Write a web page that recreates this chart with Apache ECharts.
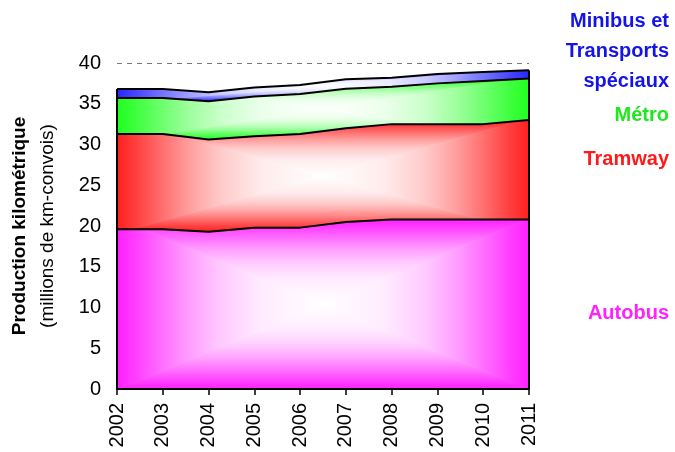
<!DOCTYPE html>
<html><head><meta charset="utf-8">
<script src="https://cdn.jsdelivr.net/npm/echarts@6/dist/echarts.min.js"></script>
<style>html,body{margin:0;padding:0;background:#fff}#c{width:675px;height:452px}</style>
</head><body><div id="c"></div>
<script>
const years = ['2002','2003','2004','2005','2006','2007','2008','2009','2010','2011'];
const autobus = [19.6,19.6,19.3,19.8,19.8,20.5,20.8,20.8,20.8,20.8];
const tramway = [11.7,11.7,11.3,11.2,11.5,11.5,11.7,11.7,11.7,12.2];
const metro   = [4.4,4.4,4.7,4.9,4.9,4.85,4.6,5.0,5.3,5.1];
const minibus = [1.1,1.1,1.1,1.1,1.1,1.15,1.1,1.15,1.1,1.0];
const yMin = 0, yMax = 40, yStep = 5;
const seriesNames = ['Autobus','Tramway','Métro','Minibus et Transports spéciaux'];
const legendLines = [['Autobus'],['Tramway'],['Métro'],['Minibus et','Transports','spéciaux']];

const seriesColors = ['#ff20ff','#ff2020','#20ff20','#2828ff'];
const textColors = ['#ff22ff','#ff1a1a','#1ee81e','#1414e6'];
const FONT = '"Liberation Sans", Arial, sans-serif';
const layers = [autobus, tramway, metro, minibus];
const totals = years.map((_, k) => layers.reduce((a, l) => a + l[k], 0));

const chart = echarts.init(document.getElementById('c'), null, {renderer: 'canvas'});

function buildSeries(fills) {
  const s = layers.map((d, i) => ({
    name: seriesNames[i], type: 'line', stack: 'total', data: d,
    showSymbol: false, symbol: 'none',
    lineStyle: {color: '#000', width: 2},
    itemStyle: {color: seriesColors[i]},
    areaStyle: {color: fills ? fills[i] : seriesColors[i], opacity: 1},
    z: 2
  }));
  const last = years.length - 1;
  s.push({type: 'line', data: [[years[0], 0], [years[0], totals[0]]], symbol: 'none', showSymbol: false,
          lineStyle: {color: '#000', width: 2}, z: 3});
  s.push({type: 'line', data: [[years[last], 0], [years[last], totals[last]]], symbol: 'none', showSymbol: false,
          lineStyle: {color: '#000', width: 2}, z: 3});
  return s;
}

// legend text layout (right-aligned at x=669)
const legendTops = [[303], [149], [105], [11, 41, 71]];
const graphics = [];
legendLines.forEach((lines, i) => {
  lines.forEach((t, j) => {
    graphics.push({type: 'text', x: 669, y: legendTops[i][j],
      style: {text: t, fill: textColors[i], font: 'bold 20px ' + FONT, align: 'right', verticalAlign: 'top'}});
  });
});

const option = {
  animation: false,
  backgroundColor: '#fff',
  grid: {left: 117, right: 146, top: 63, bottom: 63},
  xAxis: {
    type: 'category', data: years, boundaryGap: false, z: 5,
    axisLine: {lineStyle: {color: '#000', width: 2}},
    axisTick: {show: true, length: 6, lineStyle: {color: '#000', width: 1.5}},
    axisLabel: {rotate: 90, color: '#000', fontSize: 20, fontFamily: FONT, margin: 14},
    splitLine: {show: false}
  },
  yAxis: {
    type: 'value', min: yMin, max: yMax, interval: yStep,
    axisLine: {show: false}, axisTick: {show: false},
    axisLabel: {color: '#000', fontSize: 20, fontFamily: FONT, margin: 16},
    splitLine: {show: true, lineStyle: {color: '#777', type: [5, 5], width: 1}},
    name: '{b|Production kilométrique}\n{n|(millions de km-convois)}',
    nameLocation: 'middle', nameRotate: 90, nameGap: 55,
    nameTextStyle: {rich: {
      b: {fontWeight: 'bold', fontSize: 19, fontFamily: FONT, color: '#000', lineHeight: 28},
      n: {fontSize: 19, fontFamily: FONT, color: '#000', lineHeight: 28}
    }}
  },
  graphic: graphics,
  series: buildSeries(null)
};
chart.setOption(option);

function mix(hex, f) {
  const r = parseInt(hex.slice(1, 3), 16), g = parseInt(hex.slice(3, 5), 16), b = parseInt(hex.slice(5, 7), 16);
  const m = v => Math.round(v + (255 - v) * f);
  return 'rgb(' + m(r) + ',' + m(g) + ',' + m(b) + ')';
}

function makeFill(i) {
  const W = chart.getWidth(), H = chart.getHeight();
  const bottoms = years.map((_, k) => layers.slice(0, i).reduce((a, l) => a + l[k], 0));
  const tops = years.map((_, k) => bottoms[k] + layers[i][k]);
  const pa = chart.convertToPixel({gridIndex: 0}, [years[0], Math.max(...tops)]);
  const pb = chart.convertToPixel({gridIndex: 0}, [years[years.length - 1], Math.min(...bottoms)]);
  const x0 = pa[0], y0 = pa[1], x1 = pb[0], y1 = pb[1];
  const cx = (x0 + x1) / 2, cy = (y0 + y1) / 2;
  const c = document.createElement('canvas');
  c.width = W; c.height = H;
  const ctx = c.getContext('2d');
  const col = seriesColors[i];
  const stops = [[0, 0], [0.1, 0.15], [0.2, 0.32], [0.35, 0.56], [0.5, 0.76], [0.7, 0.91], [1, 1]];
  function tri(pts, g) {
    ctx.beginPath();
    ctx.moveTo(pts[0][0], pts[0][1]);
    for (let k = 1; k < pts.length; k++) ctx.lineTo(pts[k][0], pts[k][1]);
    ctx.closePath();
    ctx.fillStyle = g; ctx.strokeStyle = g; ctx.lineWidth = 1;
    ctx.fill(); ctx.stroke();
  }
  function lg(ax, ay, bx, by) {
    const g = ctx.createLinearGradient(ax, ay, bx, by);
    stops.forEach(s => g.addColorStop(s[0], mix(col, s[1])));
    return g;
  }
  const e = 2;
  tri([[x0 - e, y0 - e], [x1 + e, y0 - e], [cx, cy]], lg(0, y0, 0, cy));
  tri([[x0 - e, y1 + e], [x1 + e, y1 + e], [cx, cy]], lg(0, y1, 0, cy));
  tri([[x0 - e, y0 - e], [x0 - e, y1 + e], [cx, cy]], lg(x0, 0, cx, 0));
  tri([[x1 + e, y0 - e], [x1 + e, y1 + e], [cx, cy]], lg(x1, 0, cx, 0));
  return {image: c, repeat: 'no-repeat'};
}

const fills = layers.map((_, i) => makeFill(i));
chart.setOption({series: buildSeries(fills)});
</script>
</body></html>
